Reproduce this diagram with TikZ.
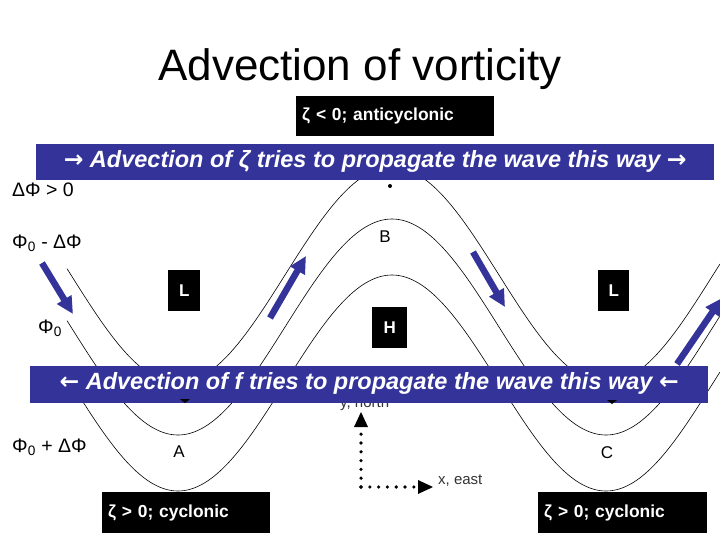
\documentclass[tikz,border=0pt]{standalone}
\usepackage{fontspec}
\setmainfont{Liberation Sans}
\newfontfamily\dvfont{DejaVu Sans}
\usetikzlibrary{arrows.meta}
\definecolor{banner}{RGB}{51,51,153}
\newcommand{\rarr}{{\dvfont\upshape\bfseries →}}
\newcommand{\larr}{{\dvfont\upshape\bfseries ←}}
\begin{document}
\begin{tikzpicture}[x=1pt,y=-1pt,
  contour/.style={black,line width=0.6pt},
  blk/.style={fill=black,text=white,font=\bfseries\fontsize{17.4}{19}\selectfont,anchor=north west,inner sep=0pt,align=left},
  lbox/.style={fill=black,text=white,font=\bfseries\fontsize{17}{19}\selectfont,anchor=north west,minimum width=32pt,minimum height=41pt,inner sep=0pt},
  bannerbox/.style={fill=banner,anchor=north west,inner sep=0pt},
  bantext/.style={font=\bfseries\itshape\fontsize{23.5}{26}\selectfont,text=white},
  flow/.style={banner,line width=6.5pt,-{Triangle[length=17pt,width=16pt]}},
  lab/.style={font=\fontsize{19.5}{22}\selectfont,anchor=west,inner sep=0pt}]
\useasboundingbox (0,0) rectangle (720,540);
% contours
\foreach \c in {275,327,383}
  \draw[contour,domain=67:720,samples=220] plot (\x,{\c+108*cos((\x-178)*0.841121)});
% title
\node[font=\fontsize{44}{48}\selectfont] (title) at (360,69) {Advection of vorticity};
% black boxes
\node[blk,minimum width=194pt,minimum height=40pt,text width=186pt,inner xsep=6pt] (anti) at (296,96) {ζ < 0; anticyclonic};
\node[blk,minimum width=164pt,minimum height=41pt,text width=156pt,inner xsep=6pt] (cycA) at (102,492) {ζ > 0; cyclonic};
\node[blk,minimum width=165pt,minimum height=41pt,text width=157pt,inner xsep=6pt] (cycC) at (538,492) {ζ > 0; cyclonic};
\node[lbox] (L1) at (168,270) {L};
\node[lbox,minimum width=31pt] (L2) at (598,270) {L};
\node[lbox,minimum width=35pt] (H) at (372,307) {H};
% letters
\node[font=\fontsize{17}{19}\selectfont] (B) at (385,237) {B};
\node[font=\fontsize{17}{19}\selectfont] (A) at (179,452) {A};
\node[font=\fontsize{17}{19}\selectfont] (C) at (607,453) {C};
% left labels
\node[lab] (d0) at (12,190) {ΔΦ > 0};
\node[lab] (p1) at (12,243) {Φ\textsubscript{0} - ΔΦ};
\node[lab] (p2) at (38,328) {Φ\textsubscript{0}};
\node[lab] (p3) at (12,447) {Φ\textsubscript{0} + ΔΦ};
% small marks
\fill (390,186) circle (2pt);
% axes
\coordinate (o) at (361,487);
\coordinate (yn) at (361,412);
\coordinate (xe) at (433,487);
\draw[line width=3.6pt,dash pattern=on 0pt off 8.8pt,line cap=round,shorten >=10pt] (o) -- (yn);
\draw[line width=3.6pt,dash pattern=on 0pt off 8.8pt,line cap=round,shorten >=10pt] (o) -- (xe);
\fill (yn) -- ++(-7,15) -- ++(14,0) -- cycle;
\fill (xe) -- ++(-15,-7) -- ++(0,14) -- cycle;
\node[font=\fontsize{15}{17}\selectfont,anchor=west,inner sep=0pt,text=black!80] (xl) at (438,481) {x, east};
\node[font=\fontsize{15}{17}\selectfont,anchor=west,inner sep=0pt,text=black!80] (yl) at (340,404) {y, north};
% blue flow arrows
\coordinate (a1s) at (42,263); \coordinate (a1e) at (73,314);
\coordinate (a2s) at (270,318); \coordinate (a2e) at (306,256);
\coordinate (a3s) at (473,252); \coordinate (a3e) at (505,307);
\coordinate (a4s) at (677,364); \coordinate (a4e) at (722,298);
\draw[flow] (a1s) -- (a1e);
\draw[flow] (a2s) -- (a2e);
\draw[flow] (a3s) -- (a3e);
\draw[flow] (a4s) -- (a4e);
% banners
\node[bannerbox,minimum width=678pt,minimum height=36pt] (top) at (36,144) {};
\node[bantext] (toptext) at ([yshift=1pt]top.center) {\rarr\ Advection of ζ tries to propagate the wave this way \rarr};
\node[bannerbox,minimum width=678pt,minimum height=37pt] (bot) at (30,366) {};
\node[bantext] (bottext) at ([yshift=1pt]bot.center) {\larr\ Advection of f tries to propagate the wave this way \larr};
\fill (185,403) -- ++(-5,-4) -- ++(10,0) -- cycle;
\fill (612,404) -- ++(-5,-4) -- ++(10,0) -- cycle;
\end{tikzpicture}
\end{document}
